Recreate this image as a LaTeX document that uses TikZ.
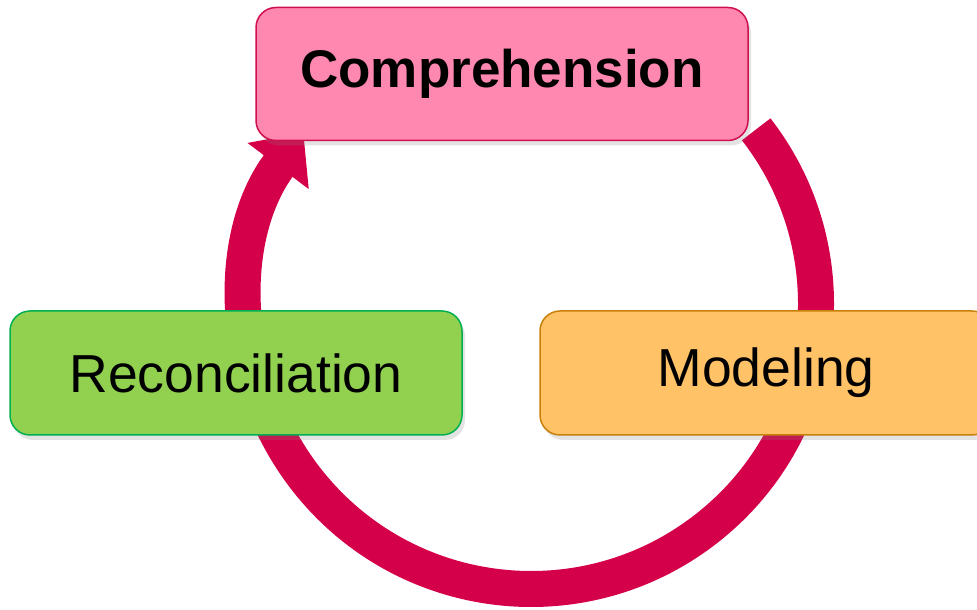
\documentclass[tikz,border=0pt]{standalone}
\usepackage{fontspec}
\setmainfont{Liberation Sans}
\usetikzlibrary{arrows.meta,shadows}
\definecolor{arcred}{HTML}{D5004A}
\definecolor{pinkfill}{HTML}{FF88B0}
\definecolor{pinkline}{HTML}{D0104C}
\definecolor{greenfill}{HTML}{92D050}
\definecolor{greenline}{HTML}{00B050}
\definecolor{orangefill}{HTML}{FFC266}
\definecolor{orangeline}{HTML}{C8800A}
\begin{document}
\begin{tikzpicture}[x=1pt,y=1pt,
  box/.style={rounded corners=20pt, line width=1.5pt, inner sep=0pt,
    font=\fontsize{53.5}{60}\selectfont, text=black,
    drop shadow={opacity=0.22, shadow xshift=3pt, shadow yshift=-5pt}},
  cyclearrow/.style={line width=36pt, draw=arcred, -{Triangle[width=74pt,length=42pt]}}]
\useasboundingbox (0,0) rectangle (977,610);
\coordinate (c) at (531,306);
\coordinate (start) at ([shift={(37.8:285)}]c);
\draw[cyclearrow] (start) arc[start angle=37.8, end angle=-217, radius=285];
\node[box, fill=pinkfill, draw=pinkline, minimum width=492pt, minimum height=133pt,
  font=\fontsize{53}{60}\selectfont\bfseries] (comp) at (502,536) {Comprehension};
\node[box, fill=greenfill, draw=greenline, minimum width=452pt, minimum height=124pt]
  (recon) at (236,237) {Reconciliation};
\node[box, fill=orangefill, draw=orangeline, minimum width=452pt, minimum height=124pt]
  (model) at (766,237) {Modeling};
\end{tikzpicture}
\end{document}
